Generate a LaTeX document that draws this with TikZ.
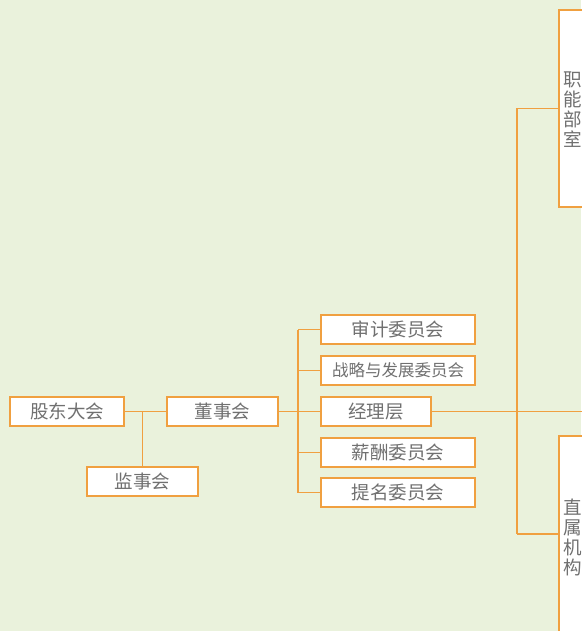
\documentclass[tikz,border=0pt]{standalone}
\usepackage{fontspec}
\newfontfamily\cjk{Noto Sans CJK SC}
\definecolor{bgc}{HTML}{EAF2DC}
\definecolor{lnc}{HTML}{F0A040}
\definecolor{txc}{HTML}{707070}
\begin{document}
\begin{tikzpicture}[x=1pt,y=-1pt,
  box/.style={draw=lnc, line width=1.6pt, fill=white, inner sep=0pt,
    text=txc, font=\cjk\fontsize{18.5}{20}\selectfont, minimum height=29pt},
  tall/.style={draw=lnc, line width=1.6pt, fill=white, inner sep=0pt, minimum width=40pt},
  vtext/.style={text=txc, font=\cjk\fontsize{18.5}{20}\selectfont, align=center, inner sep=0pt, text width=19pt},
  conn/.style={draw=lnc, line width=1.6pt}]
\useasboundingbox[fill=bgc] (0,0) rectangle (581,631);
% boxes
\node[box, minimum width=114pt] (gd) at (67,411.5) {股东大会};
\node[box, minimum width=111pt] (ds) at (222.5,411.5) {董事会};
\node[box, minimum width=111pt] (js) at (142.5,481.5) {监事会};
\node[box, minimum width=154pt] (sj) at (398,329.5) {审计委员会};
\node[box, minimum width=154pt, font=\cjk\fontsize{16.5}{20}\selectfont] (zl) at (398,370.5) {战略与发展委员会};
\node[box, minimum width=110pt] (jl) at (376,411.5) {经理层};
\node[box, minimum width=154pt] (xc) at (398,452.5) {薪酬委员会};
\node[box, minimum width=154pt] (tm) at (398,492.5) {提名委员会};
\node[tall, minimum height=197pt] (jn) at (579,108.5) {};
\node[vtext] (jnt) at (572.5,110) {职\\能\\部\\室};
\node[tall, minimum height=196pt] (zs) at (579,534) {};
\node[vtext] (zst) at (572.5,537) {直\\属\\机\\构};
% connectors
\coordinate (b1) at (298,411.5);
\coordinate (b2) at (517,411.5);
\coordinate (redge) at (590,411.5);
\draw[conn] (gd.east) -- (ds.west);
\draw[conn] (js.north) -- (js.north |- gd.east);
\draw[conn] (ds.east) -- (b1);
\draw[conn] (sj.west -| b1) -- (tm.west -| b1);
\foreach \n in {sj,zl,jl,xc,tm} { \draw[conn] (\n.west -| b1) -- (\n.west); }
\draw[conn] (jl.east) -- (redge);
\draw[conn] (jn.west -| b2) -- (zs.west -| b2);
\draw[conn] (jn.west -| b2) -- (jn.west);
\draw[conn] (zs.west -| b2) -- (zs.west);
\end{tikzpicture}
\end{document}
